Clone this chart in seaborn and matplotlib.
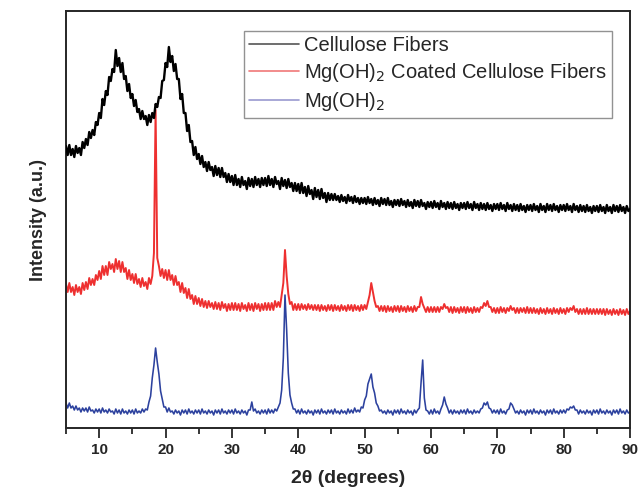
import numpy as np
import pandas as pd
import matplotlib
matplotlib.use("Agg")
import matplotlib.pyplot as plt
from matplotlib.lines import Line2D
from matplotlib.ticker import MultipleLocator
import seaborn as sns

# 2theta grid, 0.25 deg steps from 5 to 90
two_theta = np.linspace(5, 90, 341)

labels = ["Cellulose Fibers", "Mg(OH)$_2$ Coated Cellulose Fibers", "Mg(OH)$_2$"]

# intensities (arbitrary units, stacking offsets included)
# one row = 5 degrees
cellulose = [
    282, 273, 283, 273, 279, 271, 282, 275, 280, 273, 286, 280, 289, 283, 296, 290, 298, 293, 306, 303,
    315, 310, 329, 323, 337, 333, 351, 347, 359, 356, 378, 362, 370, 356, 365, 349, 352, 337, 344, 330,
    334, 322, 328, 316, 319, 309, 317, 309, 312, 303, 313, 306, 315, 310, 324, 321, 331, 330, 347, 348,
    365, 361, 381, 366, 372, 357, 364, 349, 349, 329, 334, 315, 315, 297, 303, 286, 287, 273, 281, 269,
    274, 264, 272, 261, 266, 257, 266, 258, 261, 252, 262, 253, 260, 251, 260, 251, 255, 246, 254, 246,
    252, 243, 253, 243, 249, 241, 251, 243, 247, 239, 250, 242, 249, 241, 251, 243, 249, 241, 250, 243,
    250, 242, 252, 243, 249, 241, 251, 244, 247, 239, 250, 242, 248, 240, 249, 241, 245, 237, 245, 237,
    244, 235, 245, 235, 241, 232, 242, 234, 238, 229, 240, 231, 238, 229, 239, 230, 235, 226, 235, 228,
    234, 228, 234, 228, 232, 226, 233, 227, 231, 225, 233, 227, 231, 225, 232, 226, 230, 224, 230, 225,
    230, 224, 231, 225, 229, 223, 230, 224, 228, 222, 230, 224, 229, 223, 230, 223, 227, 221, 228, 223,
    228, 222, 229, 223, 227, 221, 228, 222, 226, 220, 228, 222, 227, 221, 228, 222, 225, 219, 226, 221,
    226, 220, 227, 221, 225, 219, 227, 221, 225, 219, 226, 220, 225, 219, 226, 220, 224, 218, 225, 220,
    225, 219, 226, 220, 224, 218, 226, 220, 224, 218, 225, 219, 224, 218, 225, 219, 223, 217, 224, 219,
    224, 218, 225, 219, 223, 217, 225, 219, 223, 217, 224, 218, 223, 217, 224, 218, 222, 216, 223, 218,
    223, 217, 224, 218, 222, 216, 224, 218, 222, 216, 224, 218, 223, 217, 224, 218, 222, 216, 223, 218,
    223, 217, 224, 218, 222, 216, 224, 218, 222, 216, 223, 217, 222, 216, 223, 217, 221, 215, 222, 217,
    222, 216, 223, 217, 221, 215, 223, 217, 221, 215, 223, 217, 222, 216, 223, 217, 221, 215, 222, 217,
    219,
]
coated = [
    144, 136, 145, 136, 141, 133, 143, 136, 141, 134, 145, 138, 146, 139, 150, 143, 149, 143, 153, 148,
    157, 149, 162, 153, 162, 153, 166, 159, 164, 156, 169, 159, 167, 156, 166, 156, 160, 149, 158, 148,
    154, 145, 154, 144, 149, 141, 150, 142, 146, 139, 150, 144, 152, 175, 318, 170, 162, 152, 159, 150,
    158, 148, 158, 148, 153, 143, 152, 143, 146, 136, 145, 135, 140, 130, 139, 129, 133, 124, 132, 124,
    130, 122, 129, 121, 127, 120, 127, 121, 125, 119, 126, 119, 125, 118, 126, 120, 124, 117, 124, 118,
    125, 118, 125, 118, 124, 117, 125, 119, 123, 117, 125, 118, 124, 117, 125, 119, 124, 117, 124, 118,
    125, 118, 125, 118, 125, 118, 127, 121, 126, 121, 133, 145, 178, 152, 134, 124, 126, 118, 124, 118,
    124, 118, 124, 119, 123, 118, 124, 119, 123, 118, 123, 118, 123, 117, 123, 118, 122, 117, 123, 118,
    123, 117, 123, 118, 122, 117, 123, 118, 122, 117, 123, 118, 123, 117, 123, 118, 122, 117, 123, 118,
    123, 119, 126, 133, 145, 136, 127, 121, 122, 117, 122, 117, 122, 116, 122, 117, 121, 116, 122, 117,
    122, 116, 122, 117, 121, 116, 122, 117, 121, 116, 122, 117, 121, 121, 131, 124, 120, 116, 121, 116,
    121, 116, 121, 116, 121, 116, 121, 119, 124, 120, 121, 116, 121, 115, 121, 116, 120, 115, 121, 116,
    121, 115, 121, 116, 120, 115, 121, 116, 120, 116, 121, 120, 125, 122, 127, 121, 121, 116, 120, 115,
    120, 115, 121, 116, 120, 115, 120, 117, 122, 118, 120, 115, 120, 115, 120, 116, 120, 115, 121, 115,
    120, 115, 120, 115, 119, 114, 120, 115, 119, 114, 120, 115, 119, 114, 120, 115, 119, 114, 120, 115,
    119, 114, 120, 116, 120, 118, 122, 116, 119, 114, 119, 114, 119, 114, 120, 114, 119, 114, 119, 114,
    119, 114, 119, 114, 119, 113, 119, 114, 118, 113, 119, 114, 118, 113, 119, 114, 118, 113, 119, 114,
    117,
]
mgoh2 = [
    25, 20, 25, 20, 22, 18, 22, 18, 20, 16, 20, 17, 20, 16, 21, 17, 18, 15, 19, 16,
    19, 15, 20, 16, 18, 15, 19, 16, 17, 14, 19, 15, 18, 14, 19, 15, 17, 14, 18, 15,
    18, 14, 19, 15, 17, 15, 19, 16, 19, 18, 26, 32, 50, 63, 80, 66, 54, 37, 29, 21,
    21, 16, 20, 16, 17, 14, 18, 15, 17, 13, 18, 15, 18, 14, 19, 15, 17, 14, 18, 15,
    18, 14, 19, 15, 17, 14, 18, 15, 17, 13, 18, 15, 18, 14, 19, 15, 17, 14, 18, 15,
    18, 14, 19, 15, 17, 14, 18, 15, 17, 13, 18, 18, 26, 17, 19, 15, 17, 14, 18, 15,
    18, 14, 19, 15, 18, 15, 19, 17, 21, 25, 38, 70, 133, 98, 55, 33, 25, 19, 19, 15,
    18, 14, 19, 15, 17, 14, 18, 15, 17, 13, 18, 15, 18, 14, 19, 15, 17, 14, 18, 15,
    18, 14, 19, 15, 17, 14, 18, 15, 17, 14, 19, 15, 18, 15, 20, 16, 18, 16, 21, 20,
    28, 32, 44, 49, 54, 41, 35, 25, 22, 17, 18, 15, 17, 14, 18, 15, 17, 13, 18, 15,
    18, 14, 19, 15, 17, 14, 18, 15, 17, 13, 18, 15, 18, 20, 45, 68, 30, 18, 17, 14,
    18, 14, 19, 15, 17, 14, 19, 23, 31, 24, 20, 15, 18, 14, 18, 15, 17, 14, 18, 15,
    18, 14, 19, 15, 17, 14, 18, 15, 17, 15, 19, 20, 25, 23, 26, 20, 19, 15, 18, 15,
    18, 14, 19, 15, 17, 14, 18, 19, 25, 23, 19, 15, 17, 14, 18, 15, 17, 13, 18, 15,
    18, 14, 19, 15, 17, 14, 18, 15, 17, 13, 18, 15, 18, 14, 19, 15, 17, 14, 18, 15,
    18, 15, 19, 18, 21, 20, 22, 18, 18, 14, 18, 15, 17, 14, 18, 15, 17, 13, 18, 15,
    18, 14, 19, 15, 17, 14, 18, 15, 17, 13, 18, 15, 18, 14, 19, 15, 17, 14, 18, 15,
    16,
]

line_colors = ["#000000", "#ee3030", "#2c419e"]
line_widths = [1.7, 1.4, 1.15]
legend_colors = ["#555555", "#f07878", "#9a9ad0"]

df = pd.DataFrame({"two_theta": np.tile(two_theta, 3),
                   "intensity": cellulose + coated + mgoh2,
                   "sample": np.repeat(labels, len(two_theta))})

sns.set_style("ticks")
plt.rcParams["font.family"] = ["Liberation Sans", "DejaVu Sans"]

fig = plt.figure(figsize=(6.39, 4.94), dpi=100)
ax = fig.add_axes([0.1033, 0.1336, 0.8827, 0.8441])

sns.lineplot(data=df, x="two_theta", y="intensity", hue="sample",
             hue_order=labels, palette=line_colors, lw=1.0,
             legend=False, ax=ax)
for ln, w in zip(ax.lines, line_widths):
    ln.set_linewidth(w)
# black trace sits on top of the red one
ax.lines[0].set_zorder(5)

ax.set_xlim(5, 90)
ax.set_ylim(0, 417)
ax.set_yticks([])
ax.xaxis.set_major_locator(MultipleLocator(10))
ax.xaxis.set_minor_locator(MultipleLocator(5))
ax.tick_params(axis="x", which="major", direction="out", length=7, width=1.3,
               labelsize=11)
ax.tick_params(axis="x", which="minor", direction="out", length=4, width=1.3)
for lab in ax.get_xticklabels():
    lab.set_fontweight("bold")
for sp in ax.spines.values():
    sp.set_visible(True)
    sp.set_linewidth(1.4)

ax.set_xlabel("2θ (degrees)", fontsize=14, fontweight="bold", labelpad=10)
ax.set_ylabel("Intensity (a.u.)", fontsize=13, fontweight="bold", labelpad=14)

handles = [Line2D([], [], color=c, lw=1.2) for c in legend_colors]
leg = ax.legend(handles, labels, loc="upper right", bbox_to_anchor=(0.968, 0.952),
                fontsize=14.5, frameon=True, fancybox=False, handlelength=2.5,
                handletextpad=0.25, borderpad=0.25, labelspacing=0.3,
                borderaxespad=0)
leg.get_frame().set_edgecolor("#777777")
leg.get_frame().set_linewidth(1.0)

fig.savefig("out.png", dpi=100)
